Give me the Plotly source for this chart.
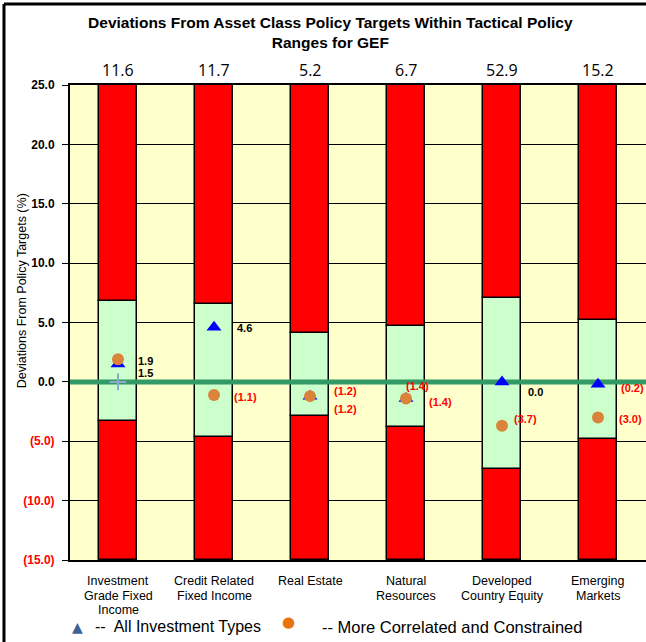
import plotly.graph_objects as go

categories = ["Investment<br>Grade Fixed<br>Income", "Credit Related<br>Fixed Income", "Real Estate",
              "Natural<br>Resources", "Developed<br>Country Equity", "Emerging<br>Markets"]
weights = ["11.6", "11.7", "5.2", "6.7", "52.9", "15.2"]
range_low = [-3.3, -4.6, -2.9, -3.8, -7.3, -4.8]
range_high = [6.8, 6.6, 4.1, 4.7, 7.1, 5.2]
axis_min, axis_max = -15.0, 25.0
all_types = [1.5, 4.6, -1.2, -1.4, 0.0, -0.2]
more_corr = [1.9, -1.1, -1.2, -1.4, -3.7, -3.0]
policy_mark = [0.0, None, None, None, None, None]
y_ticks = [-15, -10, -5, 0, 5, 10, 15, 20, 25]

# label offsets (style)
tri_shift = [(27, -9), (30, -1), (35, -13), (11, 13), (33, -10), (34, -4)]
cir_shift = [(27, -2), (31, -2), (35, 5), (34, -3), (23, 7), (32, -1)]

xs = list(range(len(categories)))
RED = "#FF0000"
FONT = "Liberation Sans, Arial, sans-serif"

def fmt(v):
    return f"{v:.1f}" if v >= 0 else f"({abs(v):.1f})"

fig = go.Figure()
line_style = dict(color="black", width=1.5)
fig.add_bar(x=xs, y=[l - axis_min for l in range_low], base=[axis_min] * len(xs),
            marker=dict(color=RED, line=line_style), width=0.4, showlegend=False)
fig.add_bar(x=xs, y=[h - l for h, l in zip(range_high, range_low)], base=range_low,
            marker=dict(color="#CCFFCC", line=line_style), width=0.4, showlegend=False)
fig.add_bar(x=xs, y=[axis_max - h for h in range_high], base=range_high,
            marker=dict(color=RED, line=line_style), width=0.4, showlegend=False)
# zero reference line
fig.add_scatter(x=[-0.5, len(xs) - 0.5], y=[0, 0], mode="lines",
                line=dict(color="#339966", width=5), showlegend=False, hoverinfo="skip")
fig.add_scatter(x=xs, y=policy_mark, mode="markers",
                marker=dict(symbol="cross-thin", size=12, line=dict(color="#8FA8D0", width=2)),
                showlegend=False)
fig.add_scatter(x=xs, y=all_types, mode="markers",
                marker=dict(symbol="triangle-up", size=13, color="#0000FF"), showlegend=False)
fig.add_scatter(x=xs, y=more_corr, mode="markers",
                marker=dict(symbol="circle", size=12, color="#D9843A"), showlegend=False)

ann = []
for i in xs:
    for vals, sh in ((all_types, tri_shift), (more_corr, cir_shift)):
        v = vals[i]
        ann.append(dict(x=i, y=v, xref="x", yref="y", text=f"<b>{fmt(v)}</b>", showarrow=False,
                        xshift=sh[i][0], yshift=sh[i][1],
                        font=dict(family=FONT, size=11, color="black" if v >= 0 else RED)))
    ann.append(dict(x=i, y=1, xref="x", yref="paper", yanchor="bottom", yshift=2,
                    text=weights[i], showarrow=False,
                    font=dict(family="Open Sans, Liberation Sans", size=16, color="black")))
    # category labels, one line each
    for k, line in enumerate(categories[i].split("<br>")):
        ann.append(dict(x=i, y=0, xref="x", yref="paper", yanchor="middle", xanchor="center",
                        yshift=-21 - 14.5 * k, text=line, showarrow=False,
                        font=dict(family=FONT, size=12.5, color="black")))

ann.append(dict(x=-0.0833, y=0.566, xref="paper", yref="paper", xanchor="center", yanchor="middle",
                text="Deviations From Policy Targets (%)",
                textangle=-90, showarrow=False,
                font=dict(family=FONT, size=12.5, color="black")))
# legend
ann.append(dict(x=0.0122, y=-0.141, xref="paper", yref="paper", text="▲", showarrow=False,
                xanchor="center", yanchor="middle",
                font=dict(family="DejaVu Sans", size=14, color="#3A6299")))
ann.append(dict(x=0.0399, y=-0.141, xref="paper", yref="paper", xanchor="left", yanchor="middle",
                text="--  All Investment Types", showarrow=False,
                font=dict(family=FONT, size=16, color="black")))
ann.append(dict(x=0.3785, y=-0.1305, xref="paper", yref="paper", text="●", showarrow=False,
                xanchor="center", yanchor="middle",
                font=dict(family="DejaVu Sans", size=15, color="#E8720C")))
ann.append(dict(x=0.434, y=-0.141, xref="paper", yref="paper", xanchor="left", yanchor="middle",
                text="-- More Correlated and Constrained", showarrow=False,
                font=dict(family=FONT, size=16.5, color="black")))

ticktext = [f"<span style='color:{RED if t < 0 else 'black'}'><b>{fmt(float(t))}</b></span>" for t in y_ticks]

fig.update_layout(
    width=646, height=642,
    margin=dict(l=70, r=0, t=85, b=82, autoexpand=False),
    paper_bgcolor="white", plot_bgcolor="#FFFFCC",
    barmode="overlay", bargap=0,
    title=dict(text="<b>Deviations From Asset Class Policy Targets Within Tactical Policy<br>Ranges for GEF</b>",
               x=0.452, xanchor="center", xref="paper", y=0.9564, yanchor="top",
               font=dict(family=FONT, size=15.5, color="black")),
    annotations=ann,
    shapes=[
        dict(type="line", xref="paper", yref="paper", x0=-0.1146, x1=1.05, y0=1.1705, y1=1.1705,
             line=dict(color="black", width=3)),
        dict(type="line", xref="paper", yref="paper", x0=-0.1146, x1=-0.1146, y0=-0.2, y1=1.1705,
             line=dict(color="black", width=3)),
    ],
    xaxis=dict(range=[-0.5, 5.5], tickvals=xs, showticklabels=False, showgrid=False,
               zeroline=False, showline=True, linecolor="black", linewidth=1.5, mirror=True,
               ticks="", automargin=False),
    yaxis=dict(range=[axis_min, axis_max], tickvals=y_ticks, ticktext=ticktext, showgrid=True,
               gridcolor="black", gridwidth=1, zeroline=False, showline=True, linecolor="black",
               linewidth=2, mirror=False, ticks="outside", ticklen=6, tickcolor="black",
               automargin=False, ticklabelstandoff=5,
               tickfont=dict(family=FONT, size=12, color="black")),
)

fig.write_html("out.html", config={"displayModeBar": False},
               post_script="document.body.style.margin='0';document.body.style.overflow='hidden';")
